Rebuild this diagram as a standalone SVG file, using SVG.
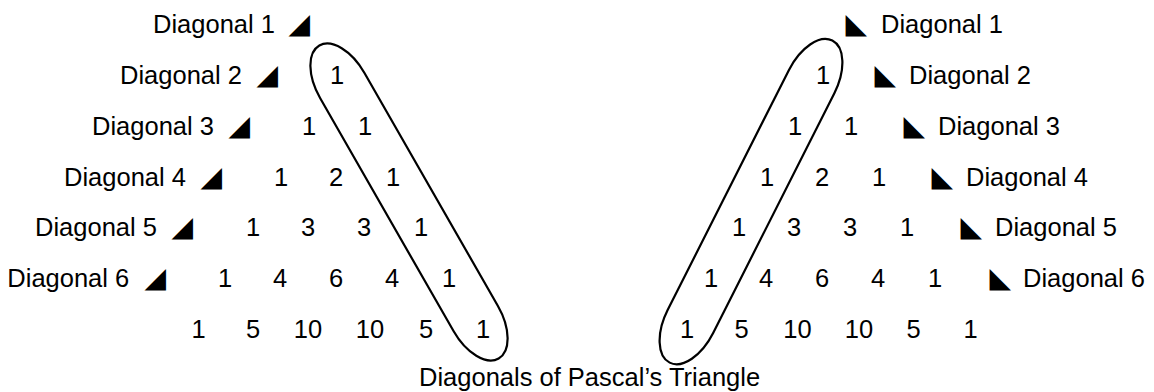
<svg xmlns="http://www.w3.org/2000/svg" width="1154" height="392" viewBox="0 0 1154 392">
  <style>
    text { font-family: "Liberation Sans", Arial, sans-serif; font-size: 25.5px; fill: #000; }
    .n { text-anchor: middle; }
    .tri { font-family: "DejaVu Sans", sans-serif; font-size: 28px; }
    .lbl { font-family: "Liberation Sans", Arial, sans-serif; font-size: 25.5px; }
    .loop { fill: none; stroke: #000; stroke-width: 2.2; }
  </style>
  <defs>
    <path id="loopShape" d="M -134.4 -25.5 H 134.4 A 46 25.5 0 0 1 134.4 25.5 H -134.4 A 46 25.5 0 0 1 -134.4 -25.5 Z"/>
  </defs>
  <rect width="1154" height="392" fill="#fff"/>

  <g id="labels-left">
    <text x="153" y="32.7">Diagonal 1<tspan class="tri" x="288.5">◢</tspan></text>
    <text x="120" y="83.6">Diagonal 2<tspan class="tri" x="256.5">◢</tspan></text>
    <text x="92" y="134.6">Diagonal 3<tspan class="tri" x="228.5">◢</tspan></text>
    <text x="64" y="185.5">Diagonal 4<tspan class="tri" x="200.5">◢</tspan></text>
    <text x="35" y="236.4">Diagonal 5<tspan class="tri" x="171.5">◢</tspan></text>
    <text x="7.3" y="287.4">Diagonal 6<tspan class="tri" x="144.5">◢</tspan></text>
  </g>

  <g id="labels-right">
    <text class="tri" x="845.5" y="32.7">◣<tspan class="lbl" x="881">Diagonal 1</tspan></text>
    <text class="tri" x="874.5" y="83.6">◣<tspan class="lbl" x="909">Diagonal 2</tspan></text>
    <text class="tri" x="903.5" y="134.6">◣<tspan class="lbl" x="938">Diagonal 3</tspan></text>
    <text class="tri" x="931.5" y="185.5">◣<tspan class="lbl" x="966">Diagonal 4</tspan></text>
    <text class="tri" x="960.5" y="236.4">◣<tspan class="lbl" x="995">Diagonal 5</tspan></text>
    <text class="tri" x="989.5" y="287.4">◣<tspan class="lbl" x="1023">Diagonal 6</tspan></text>
  </g>

  <g id="triangle-left">
    <text class="n" x="337" y="83.6">1</text>
    <text class="n" x="309" y="134.6">1</text><text class="n" x="365" y="134.6">1</text>
    <text class="n" x="281" y="185.5">1</text><text class="n" x="336" y="185.5">2</text><text class="n" x="393" y="185.5">1</text>
    <text class="n" x="253" y="236.4">1</text><text class="n" x="308" y="236.4">3</text><text class="n" x="364" y="236.4">3</text><text class="n" x="421" y="236.4">1</text>
    <text class="n" x="225" y="287.4">1</text><text class="n" x="280" y="287.4">4</text><text class="n" x="336" y="287.4">6</text><text class="n" x="392" y="287.4">4</text><text class="n" x="449" y="287.4">1</text>
    <text class="n" x="198.5" y="338.3">1</text><text class="n" x="253" y="338.3">5</text><text class="n" x="308" y="338.3">10</text><text class="n" x="370" y="338.3">10</text><text class="n" x="426" y="338.3">5</text><text class="n" x="483" y="338.3">1</text>
  </g>

  <g id="triangle-right">
    <text class="n" x="823" y="83.6">1</text>
    <text class="n" x="795" y="134.6">1</text><text class="n" x="851" y="134.6">1</text>
    <text class="n" x="767" y="185.5">1</text><text class="n" x="822" y="185.5">2</text><text class="n" x="879" y="185.5">1</text>
    <text class="n" x="739" y="236.4">1</text><text class="n" x="794" y="236.4">3</text><text class="n" x="850" y="236.4">3</text><text class="n" x="907" y="236.4">1</text>
    <text class="n" x="711" y="287.4">1</text><text class="n" x="766" y="287.4">4</text><text class="n" x="822" y="287.4">6</text><text class="n" x="878" y="287.4">4</text><text class="n" x="935" y="287.4">1</text>
    <text class="n" x="687" y="338.3">1</text><text class="n" x="741.5" y="338.3">5</text><text class="n" x="797.5" y="338.3">10</text><text class="n" x="859" y="338.3">10</text><text class="n" x="913.5" y="338.3">5</text><text class="n" x="970.5" y="338.3">1</text>
  </g>

  <g id="connectors">
    <use href="#loopShape" class="loop" transform="translate(409 202) rotate(60.2)"/>
    <use href="#loopShape" class="loop" transform="translate(751 201.6) rotate(116.8)"/>
  </g>

  <g id="title">
    <text x="419" y="386">Diagonals of Pascal’s Triangle</text>
  </g>
</svg>
